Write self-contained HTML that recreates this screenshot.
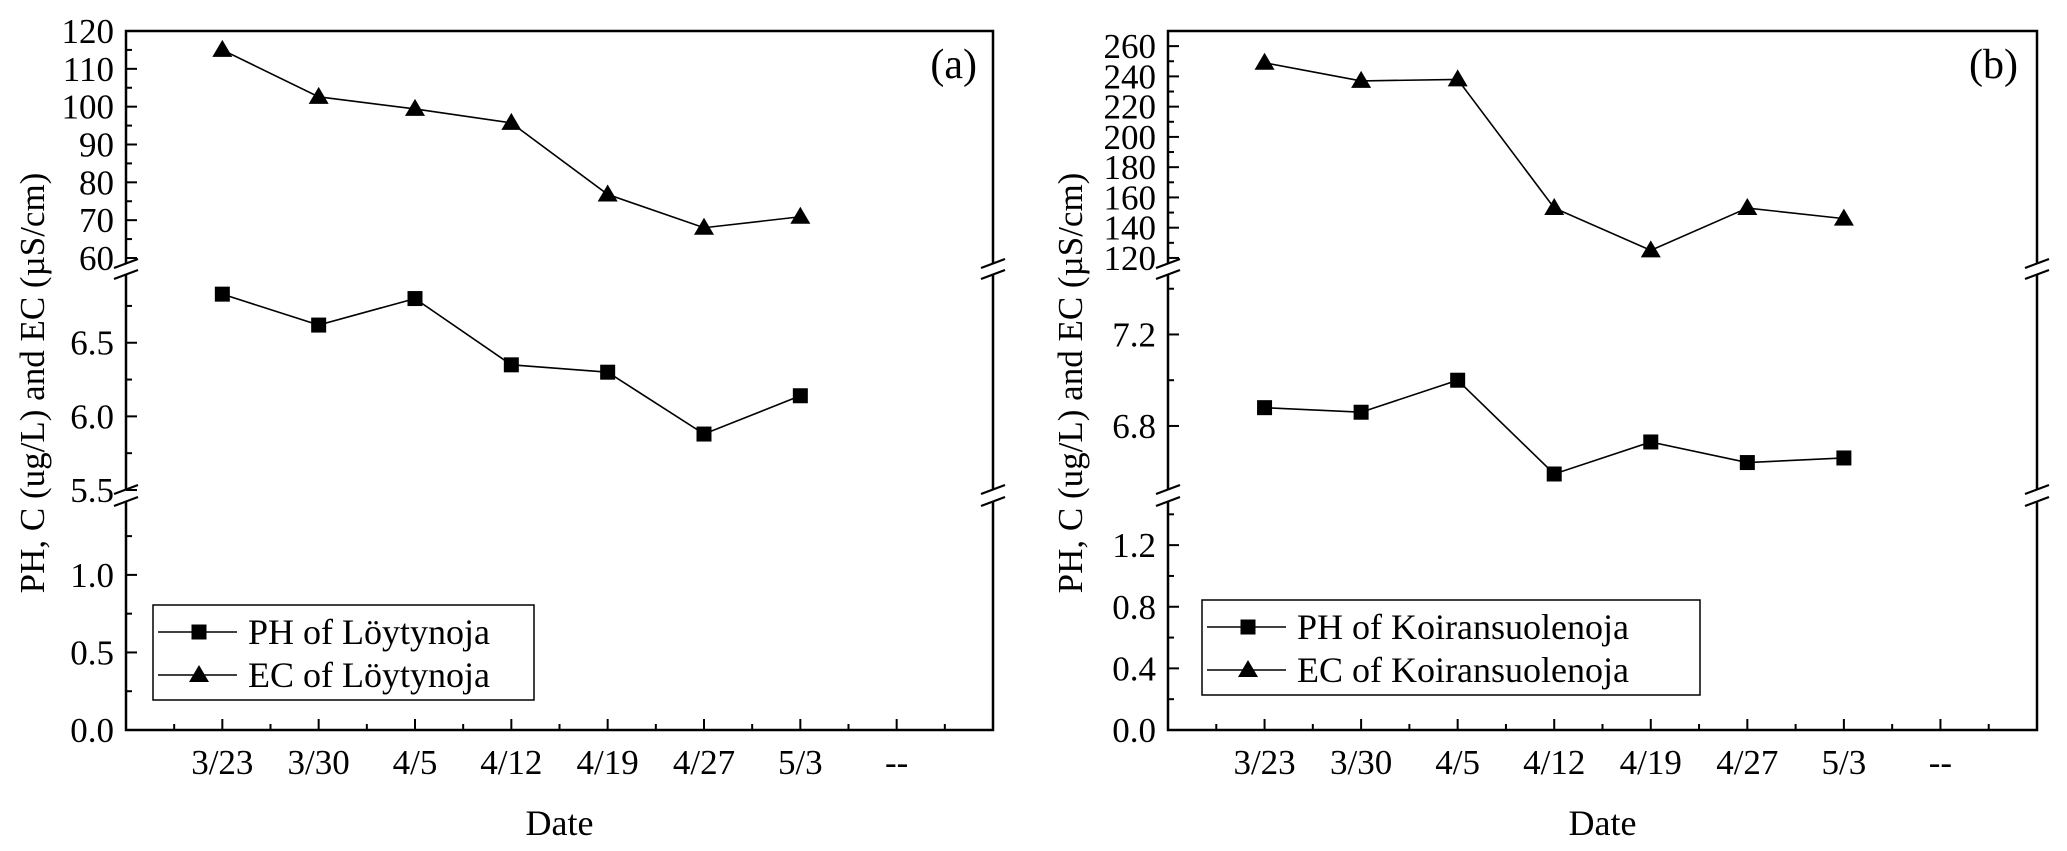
<!DOCTYPE html>
<html><head><meta charset="utf-8"><style>
html,body{margin:0;padding:0;background:#fff;width:2067px;height:851px;overflow:hidden}
svg{display:block;font-family:"Liberation Serif","DejaVu Serif",serif}
</style></head><body>
<svg id="chart" width="2067" height="851" viewBox="0 0 2067 851" xmlns="http://www.w3.org/2000/svg"></svg>
<script>
const categories = ["3/23","3/30","4/5","4/12","4/19","4/27","5/3","--"];
const phA = [6.83,6.62,6.80,6.35,6.30,5.88,6.14];
const ecA = [115,102.6,99.4,95.7,76.8,68,70.9];
const phB = [6.88,6.86,7.0,6.59,6.73,6.64,6.66];
const ecB = [249,237,238,153,125,153,146];
const ticksA_top = [60,70,80,90,100,110,120];
const ticksA_mid = [5.5,6.0,6.5];
const ticksA_bot = [0.0,0.5,1.0];
const ticksB_top = [120,140,160,180,200,220,240,260];
const ticksB_mid = [6.8,7.2];
const ticksB_bot = [0.0,0.4,0.8,1.2];
const legendA = ["PH of Löytynoja","EC of Löytynoja"];
const legendB = ["PH of Koiransuolenoja","EC of Koiransuolenoja"];

const svg = document.getElementById('chart');
const NS = "http://www.w3.org/2000/svg";
function mk(tag, attrs, parent){const e=document.createElementNS(NS,tag);for(const k in attrs)e.setAttribute(k,attrs[k]);(parent||svg).appendChild(e);return e;}

function panel(cfg){
  const g = mk('g',{});
  
  
  const L=cfg.left,R=cfg.right,T=31,B=730;
  const step=(R-L)/9;
  const xs = i => L+step*(i+1);
  const segs = cfg.segs;
  function ys(v, s){const sg=segs[s];return sg[2]-(v-sg[0])/(sg[1]-sg[0])*(sg[2]-sg[3]);}
  const frame = mk('rect',{x:L,y:T,width:R-L,height:B-T,fill:'none',stroke:'#000','stroke-width':2.5},g);
  
  
  [[264,275],[490,502]].forEach(gp=>{
    [L,R].forEach(xx=>{
      mk('rect',{x:xx-3,y:gp[0],width:6,height:gp[1]-gp[0],fill:'#fff'},g);
      mk('line',{x1:xx-12,y1:gp[0]+4,x2:xx+12,y2:gp[0]-5,stroke:'#000','stroke-width':2.2},g);
      mk('line',{x1:xx-12,y1:gp[1]+4,x2:xx+12,y2:gp[1]-5,stroke:'#000','stroke-width':2.2},g);
    });
  });
  const tsets=[cfg.tBot,cfg.tMid,cfg.tTop];
  tsets.forEach((ts,s)=>{
    const d=ts.length>1?ts[1]-ts[0]:0.5;
    ts.forEach((v,k)=>{
      const y=ys(v,s);
      mk('line',{x1:L,y1:y,x2:L+11,y2:y,stroke:'#000','stroke-width':2},g);
      const t=mk('text',{x:L-12,y:y+12,'font-size':35,'text-anchor':'end'},g);
      t.textContent = cfg.dec[s]>0? v.toFixed(cfg.dec[s]) : String(v);
      
      
    });
    const sg=segs[s];
    for(let v=ts[0]+d/2; v<sg[1]; v+=d){
      const y=ys(v,s); if(y<sg[3]+2) continue;
      mk('line',{x1:L,y1:y,x2:L+6,y2:y,stroke:'#000','stroke-width':2},g);
    }
  });
  categories.forEach((c,i)=>{
    const x=xs(i);
    mk('line',{x1:x,y1:B,x2:x,y2:B-11,stroke:'#000','stroke-width':2},g);
    mk('line',{x1:x-step/2,y1:B,x2:x-step/2,y2:B-6,stroke:'#000','stroke-width':2},g);
    const t=mk('text',{x:x,y:774,'font-size':35,'text-anchor':'middle'},g);
    t.textContent=c;
    
    
  });
  mk('line',{x1:xs(7)+step/2,y1:B,x2:xs(7)+step/2,y2:B-6,stroke:'#000','stroke-width':2},g);
  function series(vals,seg,shape,name){
    const pts=vals.map((v,i)=>[xs(i),ys(v,seg)]);
    const pl=mk('polyline',{points:pts.map(p=>p.join(',')).join(' '),fill:'none',stroke:'#000','stroke-width':1.6},g);
    
    
    pts.forEach(p=>{
      let m;
      if(shape==='sq') m=mk('rect',{x:p[0]-7.5,y:p[1]-7.5,width:15,height:15,fill:'#000'},g);
      else m=mk('polygon',{points:`${p[0]},${p[1]-10} ${p[0]-10},${p[1]+7} ${p[0]+10},${p[1]+7}`,fill:'#000'},g);
      
      
    });
  }
  series(cfg.ph,1,'sq','ph-series');
  series(cfg.ec,2,'tri','ec-series');
  const lg=mk('g',{},g);
  
  
  mk('rect',{x:cfg.lg[0],y:cfg.lg[1],width:cfg.lg[2],height:cfg.lg[3],fill:'#fff',stroke:'#000','stroke-width':1.5},lg);
  cfg.leg.forEach((txt,k)=>{
    const y=cfg.lg[1]+27+k*43;
    const x0=cfg.lg[0]+5;
    mk('line',{x1:x0,y1:y,x2:x0+79,y2:y,stroke:'#000','stroke-width':1.6},lg);
    const cx=x0+41;
    if(k===0) mk('rect',{x:cx-7.5,y:y-7.5,width:15,height:15,fill:'#000'},lg);
    else mk('polygon',{points:`${cx},${y-10} ${cx-10},${y+7} ${cx+10},${y+7}`,fill:'#000'},lg);
    const t=mk('text',{x:x0+90,y:y+12,'font-size':36},lg);
    t.textContent=txt;
    
    
  });
  const pl=mk('text',{x:cfg.plabel[0],y:78,'font-size':42,'text-anchor':'end'},g);
  pl.textContent=cfg.plabelText;
  
  
  const xt=mk('text',{x:(L+R)/2,y:835,'font-size':36,'text-anchor':'middle'},g);
  xt.textContent='Date';
  
  
  const yt=mk('text',{x:0,y:0,'font-size':35,'text-anchor':'middle',transform:`translate(${cfg.ytx},383) rotate(-90)`},g);
  yt.textContent='PH, C (ug/L) and EC (µS/cm)';
  
  
}

panel({name:'panel-a',left:126,right:993,
  segs:[[0,1.47,730,502],[5.5,6.96,490,275],[60,120,258,31]],
  tBot:ticksA_bot,tMid:ticksA_mid,tTop:ticksA_top,dec:[1,1,0],
  ph:phA,ec:ecA,lg:[153,605,381,95],leg:legendA,plabel:[977],plabelText:'(a)',ytx:44});
panel({name:'panel-b',left:1168,right:2037,
  segs:[[0,1.48,730,502],[6.52,7.46,490,275],[116,270,264,31]],
  tBot:ticksB_bot,tMid:ticksB_mid,tTop:ticksB_top,dec:[1,1,0],
  ph:phB,ec:ecB,lg:[1202,600,498,95],leg:legendB,plabel:[2018],plabelText:'(b)',ytx:1082});
</script>
</body></html>
